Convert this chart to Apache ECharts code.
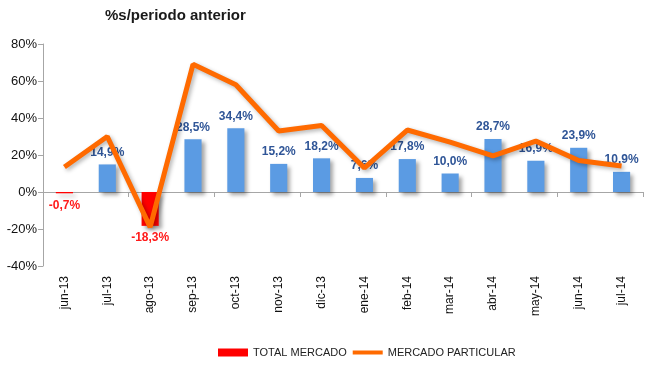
<!DOCTYPE html>
<html><head><meta charset="utf-8">
<script src="https://cdn.jsdelivr.net/npm/echarts@6/dist/echarts.min.js"></script>
<style>html,body{margin:0;padding:0;background:#fff}#c{width:650px;height:374px}</style>
</head><body><div id="c"></div>
<script>
var categories = ['jun-13','jul-13','ago-13','sep-13','oct-13','nov-13','dic-13','ene-14','feb-14','mar-14','abr-14','may-14','jun-14','jul-14'];
var totalMercado = [-0.7, 14.9, -18.3, 28.5, 34.4, 15.2, 18.2, 7.6, 17.8, 10.0, 28.7, 16.9, 23.9, 10.9];
var mercadoParticular = [13.5, 30, -19, 69, 58, 33, 36, 13, 33.5, 27, 19.5, 27.5, 17, 14];
var yTicks = [-40, -20, 0, 20, 40, 60, 80];

var chart = echarts.init(document.getElementById('c'));
var fontF = '"Liberation Sans", Arial, sans-serif';
function fmt(v){ return v.toFixed(1).replace('.', ',') + '%'; }
chart.setOption({
  animation: false,
  title: { text: '%s/periodo anterior', left: 100, top: 3,
    textStyle: { fontFamily: fontF, fontSize: 15, fontWeight: 'bold', color: '#1a1a1a' } },
  grid: { left: 43, right: 7, top: 44, bottom: 108 },
  legend: {
    top: 342, left: 213, itemGap: 6, itemWidth: 30, itemHeight: 8,
    textStyle: { fontFamily: fontF, fontSize: 11, color: '#222' },
    data: [
      { name: 'TOTAL MERCADO', icon: 'rect', itemStyle: { color: '#ff0000', shadowBlur: 0, shadowOffsetX: 0, shadowOffsetY: 0 } },
      { name: 'MERCADO PARTICULAR', icon: 'path://M0,0 L30,0 L30,4 L0,4 Z', itemStyle: { color: '#ff6a00' } }
    ]
  },
  xAxis: [{
    type: 'category', data: categories, position: 'bottom',
    axisLine: { show: false, onZero: false }, axisTick: { show: false },
    axisLabel: { rotate: 90, fontFamily: fontF, fontSize: 12, color: '#111', margin: 10 }
  }, {
    type: 'category', data: categories, position: 'bottom',
    axisLine: { onZero: true, lineStyle: { color: '#a6a6a6' } },
    axisTick: { show: true, length: 5, lineStyle: { color: '#a6a6a6' }, inside: false },
    axisLabel: { show: false }
  }],
  yAxis: {
    type: 'value', min: -40, max: 80, interval: 20,
    axisLine: { show: true, lineStyle: { color: '#a6a6a6' } },
    axisTick: { show: true, length: 5, lineStyle: { color: '#a6a6a6' } },
    splitLine: { show: false },
    axisLabel: { fontFamily: fontF, fontSize: 13, color: '#111', margin: 6,
      formatter: function(v){ return yTicks.indexOf(v) >= 0 ? v + '%' : ''; } }
  },
  series: [{
    name: 'TOTAL MERCADO', type: 'bar', barWidth: '40%', xAxisIndex: 0,
    data: totalMercado.map(function(v){
      return { value: v,
        itemStyle: { color: v < 0 ? '#ff0000' : '#5b9be3' },
        label: { position: v < 0 ? 'bottom' : 'top', color: v < 0 ? '#ff1a1a' : '#2f5597' } };
    }),
    itemStyle: { color: '#5b9be3', shadowColor: 'rgba(0,0,0,0.35)', shadowBlur: 4, shadowOffsetX: 3, shadowOffsetY: 3 },
    label: { show: true, fontFamily: fontF, fontSize: 12, fontWeight: 'bold', distance: 6,
      formatter: function(p){ return fmt(p.value); } },
    z: 2
  }, {
    name: 'MERCADO PARTICULAR', type: 'line', xAxisIndex: 0, data: mercadoParticular,
    symbol: 'none', smooth: false,
    lineStyle: { color: '#ff6a00', width: 5, shadowColor: 'rgba(0,0,0,0.3)', shadowBlur: 4, shadowOffsetX: 2, shadowOffsetY: 2 },
    itemStyle: { color: '#ff6a00' },
    z: 3
  }]
});
</script></body></html>
